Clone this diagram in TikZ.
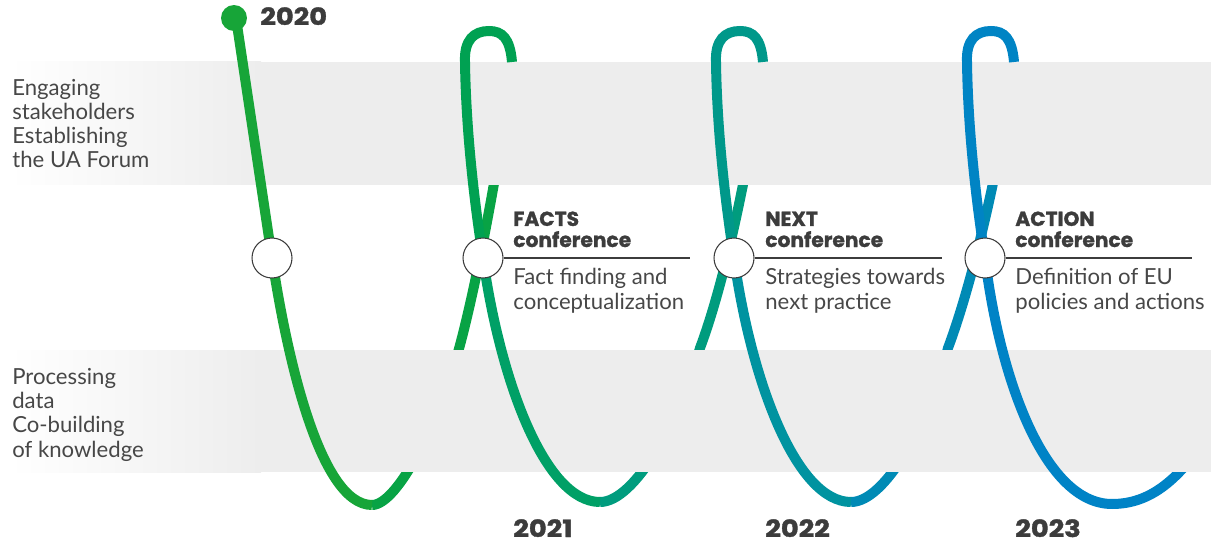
\documentclass[tikz,border=0pt]{standalone}
\usepackage{fontspec}
\setmainfont{Lato}
\newfontfamily\headfont{Poppins}[BoldFeatures={FakeBold=1.2}]
\newfontfamily\yearfont{Poppins}[BoldFeatures={FakeBold=1.6,FakeStretch=1.15}]
\definecolor{bandgray}{HTML}{EDEDED}
\definecolor{ink}{HTML}{3C3C3C}
\definecolor{txt}{HTML}{474747}
\definecolor{c0}{HTML}{17A538}
\definecolor{c1a}{HTML}{08A345}
\definecolor{c1}{HTML}{00A152}
\definecolor{c1b}{HTML}{00A066}
\definecolor{c2a}{HTML}{009C7E}
\definecolor{c2}{HTML}{00988A}
\definecolor{c2b}{HTML}{0093A0}
\definecolor{c3a}{HTML}{008AB5}
\definecolor{c3}{HTML}{0084C4}
\definecolor{c3b}{HTML}{0083C6}

\begin{document}
\begin{tikzpicture}[x=0.02cm,y=-0.02cm,
thread/.style = {draw=#1, line width=0.2cm},
milestone/.style = {circle, draw=ink, line width=0.6pt, fill=white,
                    minimum size=0.8cm, inner sep=0pt},
startdot/.style = {circle, fill=c0, minimum size=0.52cm, inner sep=0pt},
rule/.style = {draw=ink, line width=0.6pt},
side/.style = {anchor=base west, align=left, inner sep=0pt, text=txt,
               font=\fontsize{12.6}{13.8}\selectfont},
head/.style = {anchor=base west, align=left, inner sep=0pt, text=ink,
               font=\headfont\bfseries\fontsize{11.5}{12}\selectfont},
year/.style = {anchor=base west, inner sep=0pt, text=ink,
               font=\yearfont\bfseries\fontsize{13.5}{14}\selectfont},
                    ]
\useasboundingbox (0,0) rectangle (1211,544);
% rising strokes, behind the bands
\draw[thread=c1a] (372,505) .. controls (398,505) and (440,420) .. (460,345)
                            .. controls (480,270) and (505,130) .. (512,62);
\draw[thread=c2a] (600,502) .. controls (635,502) and (680,420) .. (700,348)
                            .. controls (730,268) and (755,130) .. (763,62);
\draw[thread=c3a] (851,502) .. controls (886,502) and (930,420) .. (948,348)
                            .. controls (978,268) and (1006,130) .. (1014,62);
\draw[thread=c3b] (1112,504) .. controls (1150,504) and (1180,480) .. (1211,430);
% bands
\fill[left color=white,right color=bandgray] (10,62) rectangle (261,185);
\fill[bandgray] (260,62) rectangle (1211,185);
\fill[left color=white,right color=bandgray] (10,350) rectangle (261,472);
\fill[bandgray] (260,350) rectangle (1211,472);
% descending strokes, in front
\draw[thread=c0] (236,18) -- (272,258)
                 .. controls (285,345) and (318,505) .. (372,505);
\draw[thread=c1] (512,62) .. controls (510,38) and (502,31) .. (489,31)
                 .. controls (474,31) and (464,40) .. (465,62)
                 .. controls (466,130) and (474,200) .. (483,258);
\draw[thread=c1b] (483,258) .. controls (500,380) and (545,502) .. (600,502);
\draw[thread=c2] (763,62) .. controls (761,38) and (753,31) .. (740,31)
                 .. controls (725,31) and (715,40) .. (716,62)
                 .. controls (717,130) and (725,200) .. (734,258);
\draw[thread=c2b] (734,258) .. controls (751,380) and (796,502) .. (851,502);
\draw[thread=c3] (1014,62) .. controls (1012,38) and (1004,31) .. (991,31)
                 .. controls (976,31) and (966,40) .. (967,62)
                 .. controls (968,130) and (976,200) .. (985,258);
\draw[thread=c3b] (985,258) .. controls (1000,380) and (1045,504) .. (1112,504);

\node[startdot] (start) at (234,18) {};
\node[year] (y2020) at (260,25) {2020};

\node[milestone] (m0) at (272,258) {};
\node[milestone] (m1) at (483,258) {};
\node[milestone] (m2) at (734,258) {};
\node[milestone] (m3) at (985,258) {};

\coordinate (r1) at (690,258);
\coordinate (r2) at (942,258);
\coordinate (r3) at (1192,258);
\draw[rule] (m1) -- (r1);
\draw[rule] (m2) -- (r2);
\draw[rule] (m3) -- (r3);

% multi-line nodes: base is the last line
\node[side] (engage) at (12,168) {Engaging\\stakeholders\\Establishing\\the UA Forum};
\node[side] (process) at (12,457) {Processing\\data\\Co-building\\of knowledge};

\node[head] (facts) at (513,247) {FACTS\\conference};
\node[head] (next) at (765,247) {NEXT\\conference};
\node[head] (action) at (1015,247) {ACTION\\conference};

\node[side] (facts-txt) at (513,309) {Fact finding and\\conceptualization};
\node[side] (next-txt) at (765,309) {Strategies towards\\next practice};
\node[side] (action-txt) at (1015,309) {Definition of EU\\policies and actions};

\node[year] (y2021) at (513,537) {2021};
\node[year] (y2022) at (765,537) {2022};
\node[year] (y2023) at (1015,537) {2023};
\end{tikzpicture}
\end{document}
